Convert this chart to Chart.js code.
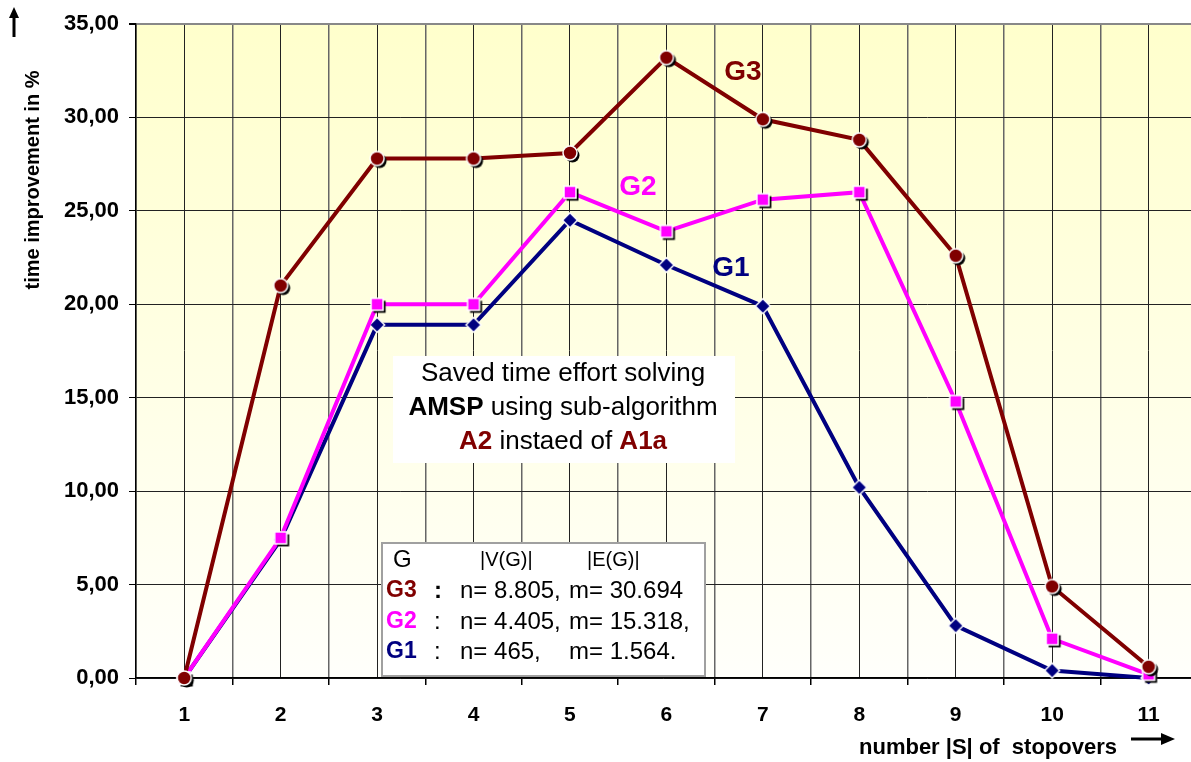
<!DOCTYPE html>
<html>
<head>
<meta charset="utf-8">
<script src="https://cdn.jsdelivr.net/npm/chart.js@4.4.1/dist/chart.umd.min.js"></script>
<style>
  html, body { margin: 0; padding: 0; background: #fff; overflow: hidden; }
  #wrap { width: 1191px; height: 762px; }
</style>
</head>
<body>
<div id="wrap"><canvas id="chart" width="1191" height="762"></canvas></div>
<script>
const categories = [1, 2, 3, 4, 5, 6, 7, 8, 9, 10, 11];
const g3Values = [0, 21.0, 27.8, 27.8, 28.1, 33.2, 29.9, 28.8, 22.6, 4.9, 0.6];
const g2Values = [0, 7.5, 20.0, 20.0, 26.0, 23.9, 25.6, 26.0, 14.8, 2.1, 0.2];
const g1Values = [0, 7.4, 18.9, 18.9, 24.5, 22.1, 19.9, 10.2, 2.8, 0.4, 0.0];
const yTicks = [0, 5, 10, 15, 20, 25, 30, 35];

const FONT = "'Liberation Sans', Arial, sans-serif";
const C_G3 = "#800000";
const C_G2 = "#ff00ff";
const C_G1 = "#000080";

// marker images with the small black drop shadow
function marker(kind, color, shadow) {
    const c = document.createElement("canvas");
    c.width = 24; c.height = 24;
    const g = c.getContext("2d");
    const shape = (dx, dy) => {
        g.beginPath();
        if (kind === "circle") {
            g.arc(12 + dx, 12 + dy, 7, 0, Math.PI * 2);
        } else if (kind === "square") {
            g.rect(6 + dx, 6 + dy, 12, 12);
        } else {
            g.moveTo(12 + dx, 4.5 + dy);
            g.lineTo(19.5 + dx, 12 + dy);
            g.lineTo(12 + dx, 19.5 + dy);
            g.lineTo(4.5 + dx, 12 + dy);
            g.closePath();
        }
    };
    if (shadow) {
        shape(2.5, 2.5);
        g.fillStyle = "#000";
        g.fill();
    }
    shape(0, 0);
    g.fillStyle = color;
    g.fill();
    g.lineWidth = 1.5;
    g.strokeStyle = "#fff";
    g.stroke();
    return c;
}

function points(values) {
    return categories.map((c, i) => ({ x: c, y: values[i] }));
}

function drawRich(ctx, parts, cx, y) {
    let total = 0;
    parts.forEach(p => { ctx.font = p.font; total += ctx.measureText(p.text).width; });
    let x = cx - total / 2;
    ctx.textAlign = "left";
    parts.forEach(p => {
        ctx.font = p.font;
        ctx.fillStyle = p.color;
        ctx.fillText(p.text, x, y);
        x += ctx.measureText(p.text).width;
    });
}

const backgroundPlugin = {
    id: "plotBackground",
    beforeDraw(chart) {
        const { ctx, chartArea: a } = chart;
        const grad = ctx.createLinearGradient(0, a.top, 0, a.bottom);
        grad.addColorStop(0, "#ffffcc");
        grad.addColorStop(1, "#fffffb");
        ctx.save();
        ctx.fillStyle = grad;
        ctx.fillRect(a.left, a.top, a.right - a.left, a.bottom - a.top);
        ctx.restore();
    }
};

const textPlugin = {
    id: "extraTexts",
    afterDraw(chart) {
        const ctx = chart.ctx;
        ctx.save();
        ctx.textBaseline = "middle";

        // series labels
        ctx.textAlign = "center";
        ctx.font = "bold 28px " + FONT;
        ctx.fillStyle = C_G3; ctx.fillText("G3", 743, 72);
        ctx.fillStyle = C_G2; ctx.fillText("G2", 638, 187);
        ctx.fillStyle = C_G1; ctx.fillText("G1", 731, 268);

        // description box
        ctx.fillStyle = "#fff";
        ctx.fillRect(393, 356, 342, 107);
        const reg = "26px " + FONT, bold = "bold 26px " + FONT;
        drawRich(ctx, [{ text: "Saved time effort solving", font: reg, color: "#000" }], 563, 374);
        drawRich(ctx, [
            { text: "AMSP", font: bold, color: "#000" },
            { text: " using sub-algorithm", font: reg, color: "#000" }
        ], 563, 408);
        drawRich(ctx, [
            { text: "A2", font: bold, color: C_G3 },
            { text: " instaed of ", font: reg, color: "#000" },
            { text: "A1a", font: bold, color: C_G3 }
        ], 563, 442);

        // graph sizes box
        ctx.fillStyle = "#fff";
        ctx.fillRect(382, 543, 323, 133);
        ctx.strokeStyle = "#a0a0a0";
        ctx.lineWidth = 2;
        ctx.strokeRect(382, 543, 323, 133);
        ctx.textAlign = "left";
        ctx.fillStyle = "#000";
        ctx.font = "24px " + FONT;
        ctx.fillText("G", 393, 560);
        ctx.font = "20px " + FONT;
        ctx.fillText("|V(G)|", 480, 560);
        ctx.fillText("|E(G)|", 587, 560);
        const rows = [
            ["G3", C_G3, 591, "n= 8.805,", "m= 30.694", true],
            ["G2", C_G2, 622, "n= 4.405,", "m= 15.318,", false],
            ["G1", C_G1, 652, "n= 465,", "m= 1.564.", false]
        ];
        rows.forEach(r => {
            ctx.font = "bold 23px " + FONT;
            ctx.fillStyle = r[1];
            ctx.fillText(r[0], 386, r[2]);
            ctx.fillStyle = "#000";
            ctx.font = (r[5] ? "bold " : "") + "24px " + FONT;
            ctx.fillText(":", 434, r[2]);
            ctx.font = "24px " + FONT;
            ctx.fillText(r[3], 460, r[2]);
            ctx.fillText(r[4], 569, r[2]);
        });

        // axis titles
        ctx.fillStyle = "#000";
        ctx.font = "bold 20px " + FONT;
        ctx.save();
        ctx.translate(33, 180);
        ctx.rotate(-Math.PI / 2);
        ctx.textAlign = "center";
        ctx.fillText("time improvement in %", 0, 0);
        ctx.restore();

        ctx.textAlign = "left";
        ctx.font = "bold 22px " + FONT;
        ctx.fillText("number |S| of  stopovers", 859, 748);

        // arrows
        ctx.strokeStyle = "#000";
        ctx.lineWidth = 3;
        ctx.beginPath();
        ctx.moveTo(14, 37); ctx.lineTo(14, 16);
        ctx.stroke();
        ctx.beginPath();
        ctx.moveTo(14, 7); ctx.lineTo(19, 18); ctx.lineTo(9, 18); ctx.closePath();
        ctx.fillStyle = "#000"; ctx.fill();

        ctx.beginPath();
        ctx.moveTo(1131, 739); ctx.lineTo(1162, 739);
        ctx.stroke();
        ctx.beginPath();
        ctx.moveTo(1175, 739); ctx.lineTo(1161, 733); ctx.lineTo(1161, 745); ctx.closePath();
        ctx.fill();
        ctx.restore();
    }
};

new Chart(document.getElementById("chart"), {
    type: "line",
    data: {
        datasets: [
            {
                label: "G3",
                data: points(g3Values),
                borderColor: C_G3,
                borderWidth: 4,
                pointStyle: marker("circle", C_G3, true),
                pointRadius: 7,
                clip: false
            },
            {
                label: "G2",
                data: points(g2Values),
                borderColor: C_G2,
                borderWidth: 4,
                pointStyle: marker("square", C_G2, true),
                pointRadius: 7,
                clip: false
            },
            {
                label: "G1",
                data: points(g1Values),
                borderColor: C_G1,
                borderWidth: 4,
                pointStyle: marker("diamond", C_G1, false),
                pointRadius: 7,
                clip: false
            }
        ]
    },
    options: {
        responsive: false,
        animation: false,
        layout: { autoPadding: false, padding: { top: 24, right: 0, bottom: 0, left: 0 } },
        plugins: {
            legend: { display: false },
            tooltip: { enabled: false }
        },
        scales: {
            x: {
                type: "linear",
                min: 0.5,
                max: 11.44,
                afterBuildTicks: scale => {
                    const t = [];
                    categories.forEach(c => { t.push({ value: c - 0.5 }); t.push({ value: c }); });
                    scale.ticks = t;
                },
                afterFit: scale => {
                    scale.height = 84;
                    scale.paddingLeft = 0;
                    scale.paddingRight = 0;
                },
                ticks: {
                    autoSkip: false,
                    maxRotation: 0,
                    padding: 18,
                    color: "#000",
                    font: { family: FONT, size: 21, weight: "bold" },
                    callback: v => Number.isInteger(v) ? String(v) : ""
                },
                grid: {
                    color: ctx => Number.isInteger(ctx.tick.value) ? "#222" : "#666",
                    lineWidth: ctx => Number.isInteger(ctx.tick.value) ? 1 : 1.5,
                    tickColor: ctx => Number.isInteger(ctx.tick.value) ? "rgba(0,0,0,0)" : "#000",
                    tickLength: 7
                },
                border: { color: "#000", width: 1.5 }
            },
            y: {
                min: 0,
                max: 35,
                afterBuildTicks: scale => { scale.ticks = yTicks.map(v => ({ value: v })); },
                afterFit: scale => {
                    scale.width = 136;
                    scale.paddingTop = 0;
                    scale.paddingBottom = 0;
                },
                ticks: {
                    padding: 10,
                    color: "#000",
                    font: { family: FONT, size: 22, weight: "bold" },
                    callback: v => v.toFixed(2).replace(".", ",")
                },
                grid: {
                    color: ctx => ctx.tick && ctx.tick.value === 35 ? "#888" : "#222",
                    lineWidth: ctx => ctx.tick && ctx.tick.value === 35 ? 2 : 1,
                    tickColor: "#000",
                    tickLength: 7
                },
                border: { color: "#000", width: 1.5 }
            }
        }
    },
    plugins: [backgroundPlugin, textPlugin]
});
</script>
</body>
</html>
